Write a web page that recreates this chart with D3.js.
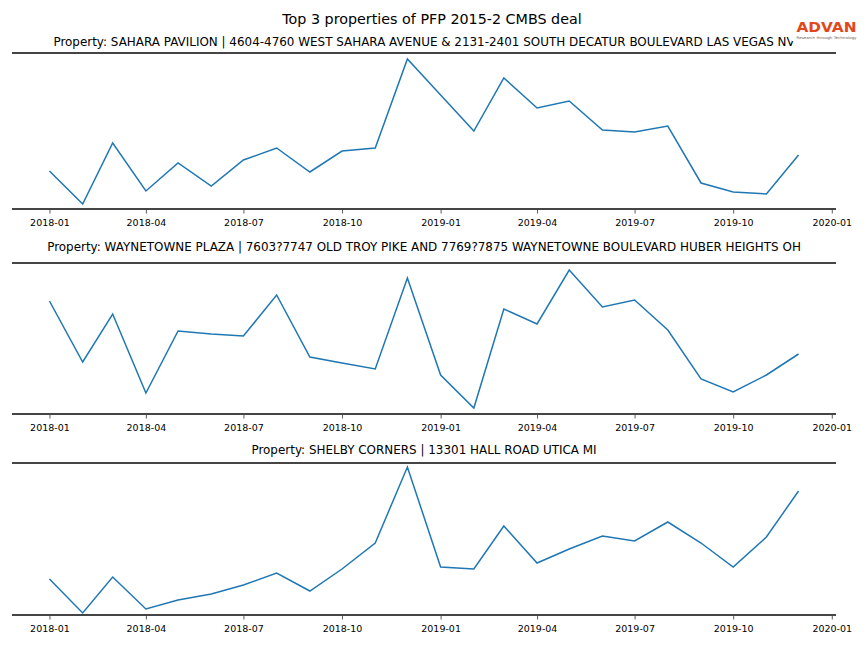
<!DOCTYPE html>
<html><head><meta charset="utf-8">
<script src="https://cdn.jsdelivr.net/npm/d3@7"></script>
<style>body{margin:0;background:#fff}svg{display:block}text{font-family:"DejaVu Sans",sans-serif}</style>
</head><body>
<script>
const months = ["2018-01","2018-02","2018-03","2018-04","2018-05","2018-06","2018-07","2018-08","2018-09","2018-10","2018-11","2018-12",
"2019-01","2019-02","2019-03","2019-04","2019-05","2019-06","2019-07","2019-08","2019-09","2019-10","2019-11","2019-12"];
const titles = [
 "Property: SAHARA PAVILION | 4604-4760 WEST SAHARA AVENUE & 2131-2401 SOUTH DECATUR BOULEVARD LAS VEGAS NV",
 "Property: WAYNETOWNE PLAZA | 7603?7747 OLD TROY PIKE AND 7769?7875 WAYNETOWNE BOULEVARD HUBER HEIGHTS OH",
 "Property: SHELBY CORNERS | 13301 HALL ROAD UTICA MI"
];
const sahara = [49,16,77,29,57,34,60,72,48,69,72,161,125,89,142,112,119,90,88,94,37,28,26,65];
const waynetowne = [119,58,106,27,89,86,84,125,63,57,51,142,45,12,111,96,150,113,120,90,41,28,45,66];
const shelby = [41,7,43,11,20,26,35,47,29,51,77,153,53,51,94,57,71,84,79,98,77,53,83,129];
const yLimits = [[11,167],[6,157],[5,157]];
const tickMonths = ["2018-01","2018-04","2018-07","2018-10","2019-01","2019-04","2019-07","2019-10","2020-01"];
const mainTitle = "Top 3 properties of PFP 2015-2 CMBS deal";
const series = [sahara, waynetowne, shelby];

const W = 864, H = 648;
const svg = d3.select("body").append("svg").attr("width", W).attr("height", H);
const parse = d3.timeParse("%Y-%m");
const dates = months.map(parse);
const pad = (dates[dates.length-1] - dates[0]) * 0.05;
const x = d3.scaleTime()
  .domain([new Date(+dates[0] - pad), new Date(+dates[dates.length-1] + pad)])
  .range([12, 836]);

svg.append("text").attr("x", 432).attr("y", 24).attr("text-anchor", "middle")
  .attr("font-size", 14.3).attr("fill", "#000").text(mainTitle);

const panels = [{top:53,bottom:209,title:46},{top:263,bottom:414,title:250.5},{top:463,bottom:615,title:454}];
panels.forEach((p, i) => {
  const g = svg.append("g");
  const y = d3.scaleLinear().domain(yLimits[i]).range([p.bottom, p.top]);
  g.append("text").attr("x", 424).attr("y", p.title).attr("text-anchor", "middle")
    .attr("font-size", 11.95).attr("fill", "#000").text(titles[i]);
  const line = d3.line().x((d, j) => x(dates[j])).y(d => y(d));
  g.append("path").datum(series[i]).attr("d", line)
    .attr("fill", "none").attr("stroke", "#1f77b4").attr("stroke-width", 1.5)
    .attr("stroke-linejoin", "miter");
  g.append("line").attr("x1", 12).attr("x2", 836).attr("y1", p.top).attr("y2", p.top)
    .attr("stroke", "#454545").attr("stroke-width", 2);
  const ax = d3.axisBottom(x).tickValues(tickMonths.map(parse))
    .tickFormat(d3.timeFormat("%Y-%m")).tickSize(4.5).tickPadding(5.5);
  const axg = g.append("g").attr("transform", `translate(0,${p.bottom})`).call(ax);
  axg.select(".domain").remove();
  axg.selectAll(".tick line").attr("stroke", "#333").attr("stroke-width", 0.8);
  axg.selectAll(".tick text").attr("font-size", 9.5).attr("fill", "#000")
    .attr("font-family", "DejaVu Sans, sans-serif");
  g.append("line").attr("x1", 12).attr("x2", 836).attr("y1", p.bottom).attr("y2", p.bottom)
    .attr("stroke", "#454545").attr("stroke-width", 2);
});

// logo (drawn on top, with its white background)
svg.append("rect").attr("x", 792).attr("y", 8).attr("width", 72).attr("height", 33).attr("fill", "#fff");
svg.append("text").attr("x", 826.5).attr("y", 31.5).attr("text-anchor", "middle")
  .attr("font-size", 14).attr("font-weight", "bold").attr("fill", "#e2471b")
  .attr("font-family", "Liberation Sans, Arial, sans-serif").attr("textLength", 60)
  .attr("lengthAdjust", "spacingAndGlyphs").text("ADVAN");
svg.append("text").attr("x", 826.5).attr("y", 38.5).attr("text-anchor", "middle")
  .attr("font-size", 3.6).attr("fill", "#666").attr("textLength", 60)
  .attr("lengthAdjust", "spacingAndGlyphs").text("Research through Technology");
</script>
</body></html>
